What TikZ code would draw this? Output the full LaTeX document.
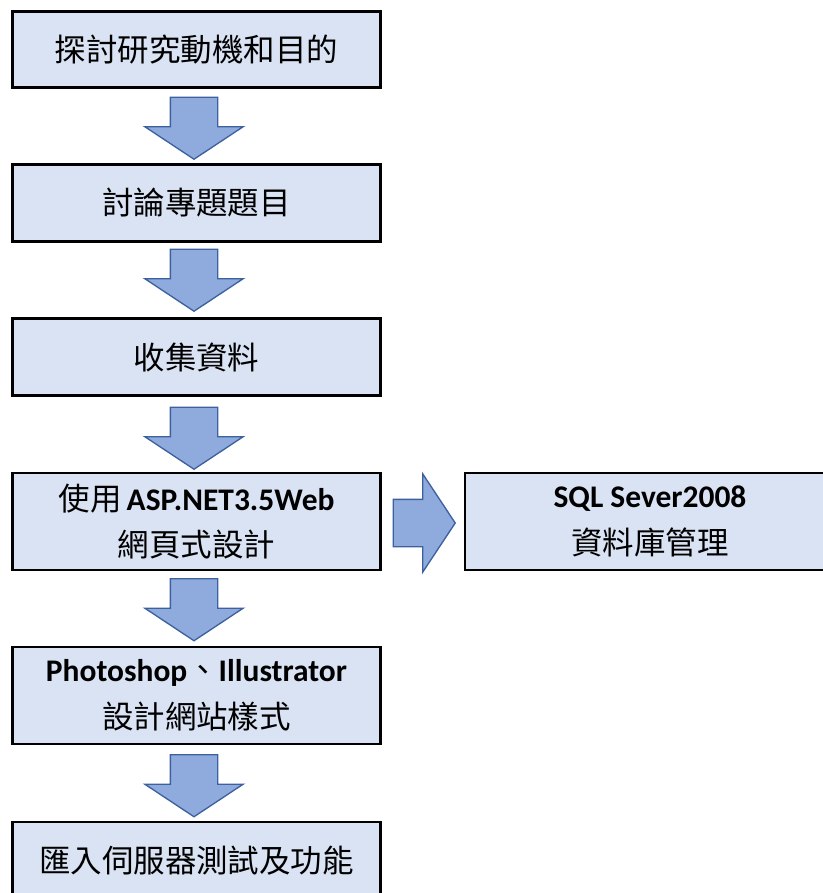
\documentclass[tikz,border=0pt]{standalone}
\usepackage{fontspec}
\setmainfont{Carlito}
\newfontfamily\cjk{Noto Sans CJK TC}
\usetikzlibrary{shapes.arrows,calc}
\definecolor{boxfill}{HTML}{DAE3F3}
\definecolor{arrowfill}{HTML}{8FAADC}
\definecolor{arrowline}{HTML}{3C619E}

\begin{document}
\begin{tikzpicture}[x=0.75pt,y=-0.75pt,
    stepbox/.style={rectangle,draw=black,line width=1.6pt,fill=boxfill,
      minimum width=276pt,inner sep=0pt,align=center,
      font=\cjk\fontsize{23.6}{35}\selectfont},
    flowarrow/.style={single arrow,draw=arrowline,fill=arrowfill,line width=1pt,
      minimum height=46.5pt,single arrow head extend=19.1pt,
      single arrow tip angle=113,single arrow head indent=0pt,
      inner xsep=0pt,inner ysep=17.25pt,anchor=tail}]

      \useasboundingbox (0,0) rectangle (823,893);
      \clip (0,0) rectangle (823,893);

      \begin{scope}[every node/.style={stepbox}]
        \node[minimum height=57pt]    (b1)  at (196.5,49.5)  {探討研究動機和目的};
        \node[minimum height=57.75pt] (b2)  at (196.5,203)   {討論專題題目};
        \node[minimum height=57.75pt] (b3)  at (196.5,357)   {收集資料};
        \node[minimum height=72.75pt] (b4)  at (196.5,521.5) {使用\,{\rmfamily\bfseries ASP.NET3.5Web}\\網頁式設計};
        \node[minimum height=72.75pt] (b5)  at (196.5,695.5) {{\rmfamily\bfseries Photoshop}、{\rmfamily\bfseries Illustrator}\\設計網站樣式};
        \node[minimum height=57.75pt] (b6)  at (196.5,860.5) {匯入伺服器測試及功能};
        \node[minimum height=72.75pt,minimum width=277.5pt] (sql) at (650,521.5) {{\rmfamily\bfseries SQL Sever2008}\\資料庫管理};
      \end{scope}

      \begin{scope}[every node/.style={flowarrow}]
        \node[rotate=-90] (a1) at ($(b1.south)+(-2.5,8)$)  {};
        \node[rotate=-90] (a2) at ($(b2.south)+(-2.5,6)$)  {};
        \node[rotate=-90] (a3) at ($(b3.south)+(-2.5,10)$) {};
        \node[rotate=-90] (a4) at ($(b4.south)+(-2.5,7)$)  {};
        \node[rotate=-90] (a5) at ($(b5.south)+(-2.5,9)$)  {};
        \node             (a6) at ($(b4.east)+(11,1.5)$)   {};
      \end{scope}

    \end{tikzpicture}
\end{document}
